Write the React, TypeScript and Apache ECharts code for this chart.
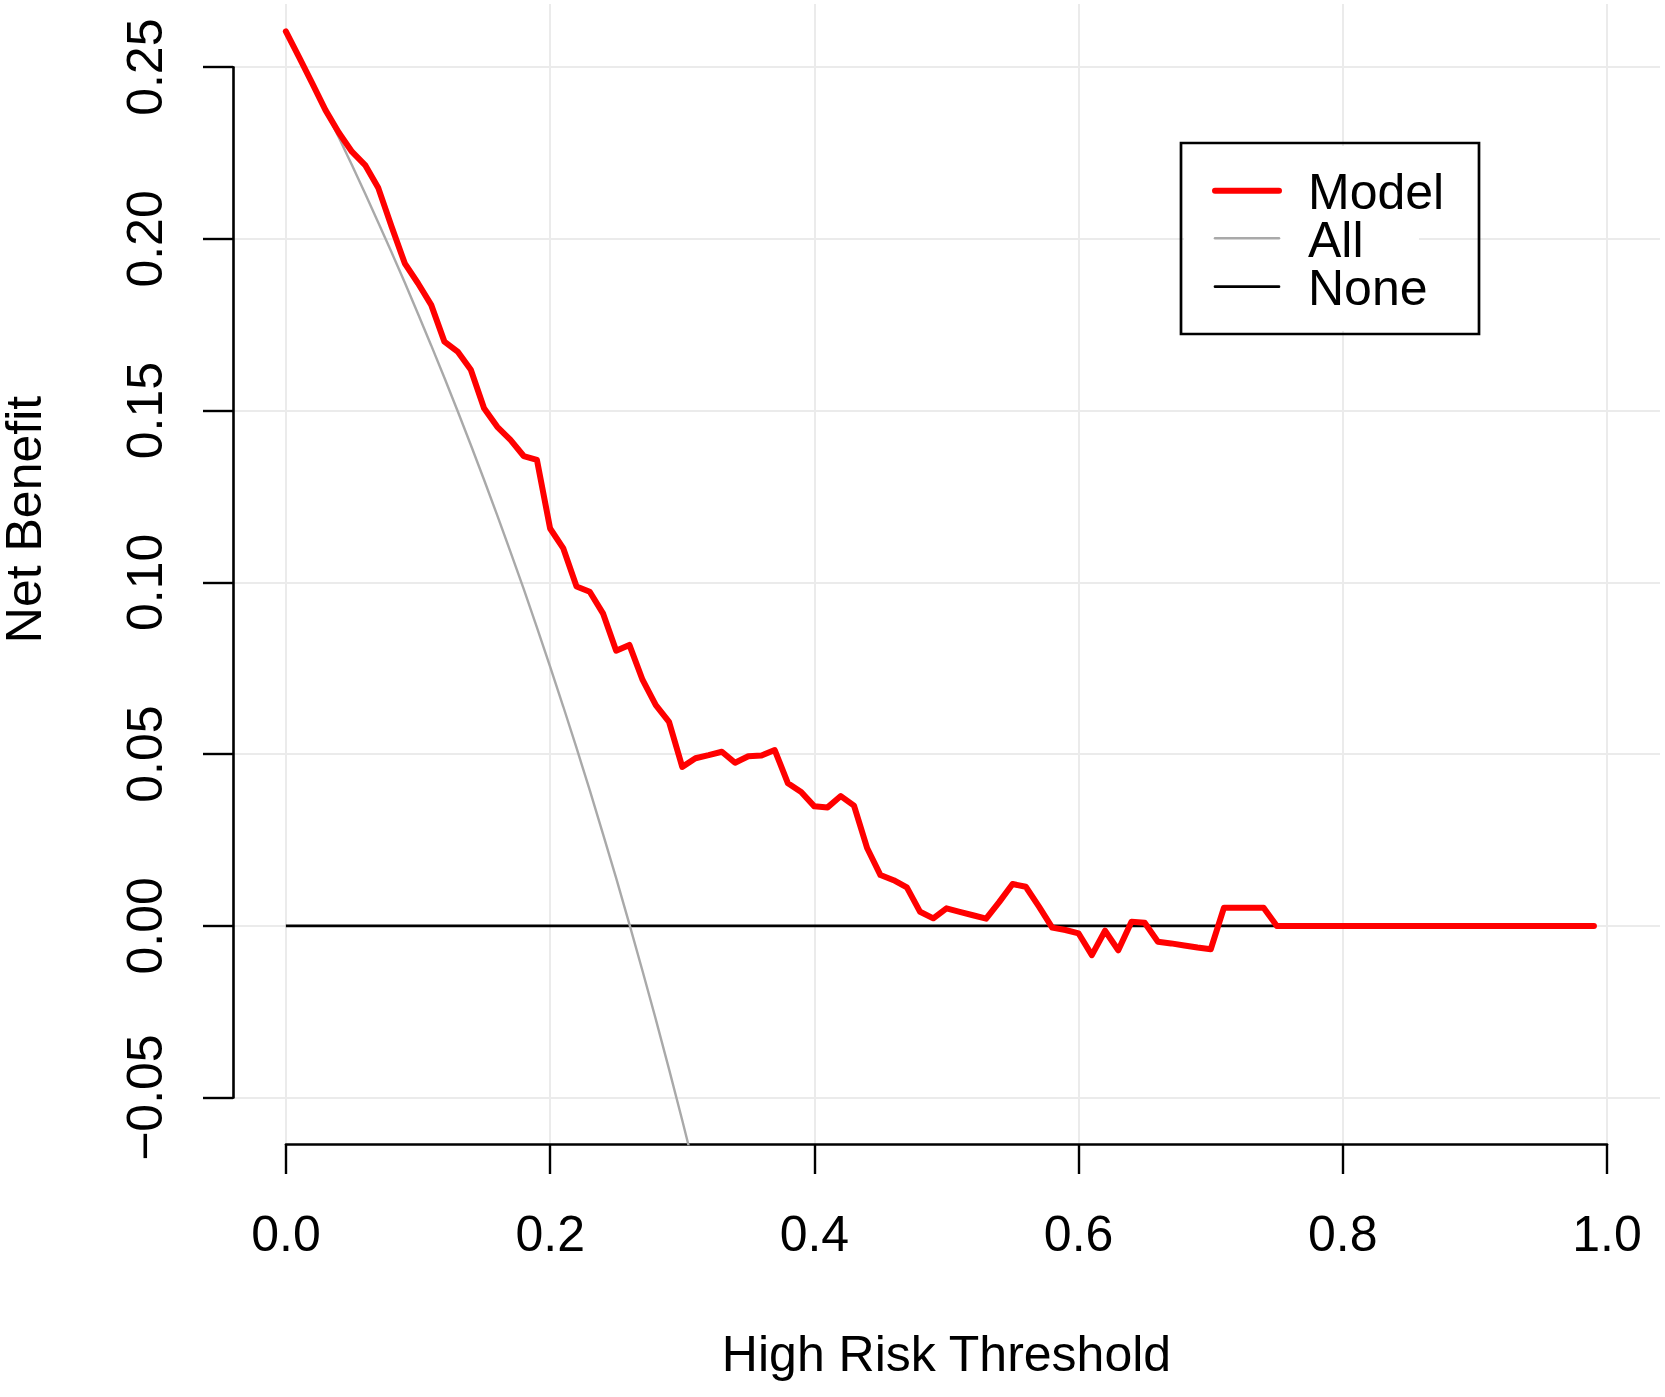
import React, { useEffect, useRef } from "react";
import * as echarts from "echarts";

// ---- data ----
const thresholds = [
  0.0, 0.01, 0.02, 0.03, 0.04, 0.05, 0.06, 0.07, 0.08, 0.09,
  0.1, 0.11, 0.12, 0.13, 0.14, 0.15, 0.16, 0.17, 0.18, 0.19,
  0.2, 0.21, 0.22, 0.23, 0.24, 0.25, 0.26, 0.27, 0.28, 0.29,
  0.3, 0.31, 0.32, 0.33, 0.34, 0.35, 0.36, 0.37, 0.38, 0.39,
  0.4, 0.41, 0.42, 0.43, 0.44, 0.45, 0.46, 0.47, 0.48, 0.49,
  0.5, 0.51, 0.52, 0.53, 0.54, 0.55, 0.56, 0.57, 0.58, 0.59,
  0.6, 0.61, 0.62, 0.63, 0.64, 0.65, 0.66, 0.67, 0.68, 0.69,
  0.7, 0.71, 0.72, 0.73, 0.74, 0.75, 0.76, 0.77, 0.78, 0.79,
  0.8, 0.81, 0.82, 0.83, 0.84, 0.85, 0.86, 0.87, 0.88, 0.89,
  0.9, 0.91, 0.92, 0.93, 0.94, 0.95, 0.96, 0.97, 0.98, 0.99,
];

const modelNetBenefit = [
  0.2604, 0.2529, 0.2453, 0.2375, 0.231, 0.2254, 0.2215, 0.2148, 0.2036, 0.1929,
  0.1871, 0.1808, 0.1701, 0.1672, 0.1619, 0.1507, 0.1453, 0.1415, 0.1368, 0.1357,
  0.1157, 0.1099, 0.0988, 0.0973, 0.091, 0.0801, 0.0818, 0.0716, 0.0643, 0.0594,
  0.0463, 0.0488, 0.0497, 0.0507, 0.0475, 0.0494, 0.0496, 0.0512, 0.0415, 0.039,
  0.0348, 0.0345, 0.0378, 0.035, 0.0226, 0.0148, 0.0133, 0.0112, 0.0041, 0.0022,
  0.0051, 0.0041, 0.0031, 0.0021, 0.007, 0.0122, 0.0114, 0.0056, -0.0005, -0.0012,
  -0.0022, -0.0085, -0.0014, -0.0071, 0.0012, 0.0009, -0.0046, -0.0051, -0.0057, -0.0063,
  -0.0068, 0.0053, 0.0053, 0.0053, 0.0053, 0, 0, 0, 0, 0,
  0, 0, 0, 0, 0, 0, 0, 0, 0, 0,
  0, 0, 0, 0, 0, 0, 0, 0, 0, 0,
];

const allThresholds = [
  0.0, 0.01, 0.02, 0.03, 0.04, 0.05, 0.06, 0.07, 0.08, 0.09,
  0.1, 0.11, 0.12, 0.13, 0.14, 0.15, 0.16, 0.17, 0.18, 0.19,
  0.2, 0.21, 0.22, 0.23, 0.24, 0.25, 0.26, 0.27, 0.28, 0.29,
  0.3, 0.31,
];
const allNetBenefit = [
  0.2604, 0.2529, 0.2453, 0.2375, 0.2296, 0.2215, 0.2132, 0.2047, 0.1961, 0.1873,
  0.1782, 0.169, 0.1596, 0.1499, 0.14, 0.1299, 0.1195, 0.1089, 0.0981, 0.0869,
  0.0755, 0.0638, 0.0518, 0.0395, 0.0268, 0.0139, 0.0005, -0.0132, -0.0272, -0.0417,
  -0.0566, -0.0719,
];

const noneThresholds = [0.0, 0.99];
const noneNetBenefit = [0, 0];

const xTicks = [0, 0.2, 0.4, 0.6, 0.8, 1.0];
const yTicks = [-0.05, 0, 0.05, 0.1, 0.15, 0.2, 0.25];

const legendNames = ["Model", "All", "None"];
const xTitle = "High Risk Threshold";
const yTitle = "Net Benefit";

const FONT = '"Liberation Sans", Arial, Helvetica, sans-serif';
const FS = 50;
const RED = "#FF0000";
const GREY = "#A9A9A9";
const BLACK = "#000000";
const GRID = "#EBEBEB";

const pairs = (xs: number[], ys: number[]) => xs.map((x, i) => [x, ys[i]]);

export default function App() {
  const ref = useRef<HTMLDivElement | null>(null);

  useEffect(() => {
    document.body.style.margin = "0";
    if (!ref.current) return;
    const chart = echarts.init(ref.current, undefined, { renderer: "svg" });

    const legendColors = [RED, GREY, BLACK];
    const legendWidths = [6, 2.5, 2.7];
    const legendLineY = [190.7, 238.3, 286.7];

    const legendGraphics: any[] = [
      {
        type: "rect",
        z: 100,
        shape: { x: 1184, y: 146, width: 235, height: 185 },
        style: { fill: "#FFFFFF", stroke: "none" },
        silent: true,
      },
      {
        type: "rect",
        z: 101,
        shape: { x: 1181, y: 143, width: 298, height: 191 },
        style: { fill: "none", stroke: BLACK, lineWidth: 2.7 },
        silent: true,
      },
    ];
    legendNames.forEach((name, i) => {
      legendGraphics.push({
        type: "line",
        z: 102,
        shape: { x1: 1215, y1: legendLineY[i], x2: 1279, y2: legendLineY[i] },
        style: { stroke: legendColors[i], lineWidth: legendWidths[i], lineCap: "round" },
        silent: true,
      });
      legendGraphics.push({
        type: "text",
        z: 102,
        x: 1308,
        y: legendLineY[i] + 1.5,
        style: {
          text: name,
          fontSize: FS,
          fontFamily: FONT,
          fill: BLACK,
          align: "left",
          verticalAlign: "middle",
        },
        silent: true,
      });
    });

    const option: any = {
      animation: false,
      backgroundColor: "#FFFFFF",
      textStyle: { fontFamily: FONT },
      grid: [
        { left: 233, right: 5, top: 4, bottom: 253, containLabel: false },
        { left: 286, right: 58, top: 67.2, bottom: 299.4, containLabel: false },
      ],
      xAxis: [
        { gridIndex: 0, type: "value", min: -0.04, max: 1.04, show: false },
        {
          gridIndex: 1,
          type: "value",
          min: 0,
          max: 1,
          interval: 0.2,
          position: "bottom",
          offset: 46.4,
          axisLine: { show: true, onZero: false, lineStyle: { color: BLACK, width: 2.6 } },
          axisTick: { show: true, inside: false, length: 30, lineStyle: { color: BLACK, width: 2.4 } },
          axisLabel: {
            show: true,
            margin: 90,
            fontSize: FS,
            fontFamily: FONT,
            color: BLACK,
            verticalAlign: "middle",
            showMinLabel: true,
            showMaxLabel: true,
            formatter: (v: number) => v.toFixed(1),
          },
          splitLine: { show: false },
          name: xTitle,
          nameLocation: "middle",
          nameGap: 210,
          nameTextStyle: { fontSize: FS, fontFamily: FONT, color: BLACK, verticalAlign: "middle" },
        },
      ],
      yAxis: [
        { gridIndex: 0, type: "value", min: -0.0635, max: 0.2684, show: false },
        {
          gridIndex: 1,
          type: "value",
          min: -0.05,
          max: 0.25,
          interval: 0.05,
          position: "left",
          offset: 53,
          axisLine: { show: true, onZero: false, lineStyle: { color: BLACK, width: 2.6 } },
          axisTick: { show: true, inside: false, length: 30, lineStyle: { color: BLACK, width: 2.4 } },
          axisLabel: {
            show: true,
            margin: 88,
            rotate: 90,
            fontSize: FS,
            fontFamily: FONT,
            color: BLACK,
            align: "center",
            verticalAlign: "middle",
            showMinLabel: true,
            showMaxLabel: true,
            formatter: (v: number) =>
              Math.abs(v) < 1e-9 ? "0.00" : v < 0 ? "\u2212" + Math.abs(v).toFixed(2) : v.toFixed(2),
          },
          splitLine: { show: false },
        },
      ],
      series: [
        {
          name: "grid",
          type: "line",
          xAxisIndex: 0,
          yAxisIndex: 0,
          data: [],
          silent: true,
          z: 0,
          markLine: {
            z: 0,
            silent: true,
            symbol: ["none", "none"],
            label: { show: false },
            emphasis: { disabled: true },
            lineStyle: { color: GRID, width: 2, type: "solid" },
            data: [
              ...xTicks.map((v) => ({ xAxis: v })),
              ...yTicks.map((v) => ({ yAxis: v })),
            ],
          },
        },
        {
          name: legendNames[2],
          type: "line",
          xAxisIndex: 0,
          yAxisIndex: 0,
          data: pairs(noneThresholds, noneNetBenefit),
          showSymbol: false,
          symbol: "none",
          silent: true,
          z: 6,
          lineStyle: { color: BLACK, width: 2.7 },
        },
        {
          name: legendNames[1],
          type: "line",
          xAxisIndex: 0,
          yAxisIndex: 0,
          data: pairs(allThresholds, allNetBenefit),
          showSymbol: false,
          symbol: "none",
          silent: true,
          clip: true,
          z: 7,
          lineStyle: { color: GREY, width: 2.4 },
        },
        {
          name: legendNames[0],
          type: "line",
          xAxisIndex: 0,
          yAxisIndex: 0,
          data: pairs(thresholds, modelNetBenefit),
          showSymbol: false,
          symbol: "none",
          silent: true,
          z: 8,
          lineStyle: { color: RED, width: 6, cap: "round", join: "round" },
        },
      ],
      graphic: [
        ...legendGraphics,
        {
          type: "text",
          z: 102,
          x: 24,
          y: 519.5,
          rotation: Math.PI / 2,
          style: {
            text: yTitle,
            fontSize: FS,
            fontFamily: FONT,
            fill: BLACK,
            align: "center",
            verticalAlign: "middle",
          },
          silent: true,
        },
      ],
    };

    chart.setOption(option);
    return () => {
      chart.dispose();
    };
  }, []);

  return <div ref={ref} style={{ width: 1665, height: 1397, background: "#fff" }} />;
}
